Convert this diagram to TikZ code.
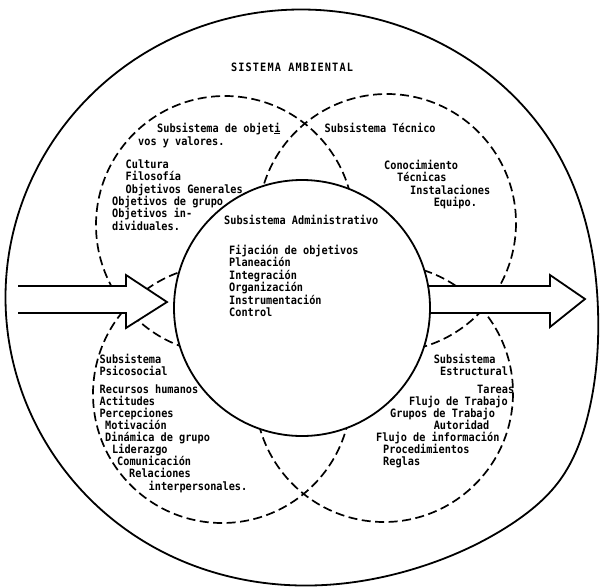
\documentclass[tikz,border=0pt]{standalone}
\usepackage{fontspec}
\usetikzlibrary{hobby}
% tall, narrow line-printer lettering
\newfontfamily\monotxt[FakeStretch=0.89]{DejaVu Sans Mono}
\newfontfamily\titlemono[FakeStretch=0.89, LetterSpace=10]{DejaVu Sans Mono}
\begin{document}
\begin{tikzpicture}[x=1pt,y=-1pt,
  solidline/.style={line width=1.8pt},
  dashline/.style={line width=1.7pt, dash pattern=on 9pt off 4.5pt},
  txt/.style={font=\monotxt\bfseries\fontsize{11.5}{12}\selectfont, anchor=base west, inner sep=0pt},
  titletxt/.style={font=\titlemono\bfseries\fontsize{11.5}{12}\selectfont, anchor=base, inner sep=0pt},
  arrowbody/.style={solidline, line join=miter},
]
\useasboundingbox (0,0) rectangle (600,587);

% environment: outer boundary, a hand-drawn circle, fuller towards the lower right
\draw[solidline, use Hobby shortcut, closed=true]
  (301.5,9.5) .. (449.5,48) .. (557.8,153.5) .. (598,310) .. (588,415) .. (560,480) ..
  (510,525) .. (420,567) .. (301.5,585.5) .. (153.5,547) .. (45.2,441.5) ..
  (5.5,297.5) .. (45.2,153.5) .. (153.5,48);

% the four subsystems around the administrative core
\coordinate (cObj) at (225,225);
\coordinate (cTec) at (387,223);
\coordinate (cPsi) at (222,394);
\coordinate (cEst) at (384,393);
\foreach \c in {cObj,cTec,cPsi,cEst}
  \draw[dashline] (\c) circle [radius=129];

% input arrow (open at its tail)
\fill[white] (18,286) -- (126,286) -- (126,275) -- (167,302) -- (126,328) -- (126,313) -- (18,313) -- cycle;
\draw[arrowbody] (18,286) -- (126,286) -- (126,275) -- (167,302) -- (126,328) -- (126,313) -- (18,313);

% output arrow, leaving the core
\fill[white] (400,286) -- (550,286) -- (550,275) -- (585,299) -- (550,327) -- (550,313) -- (400,313) -- cycle;
\draw[arrowbody] (400,286) -- (550,286) -- (550,275) -- (585,299) -- (550,327) -- (550,313) -- (400,313);

% administrative core
\coordinate (cAdm) at (302,308);
\draw[solidline, fill=white] (cAdm) circle [radius=128];

% title
\node[titletxt] (title) at (292,71.5) {SISTEMA AMBIENTAL};

% texts: name / x / line centre / text
\foreach \n/\x/\y/\t in {
  ul1/157/128/{Subsistema de objet\underline{i}},
  ul2/138/141/{vos y valores.},
  ul3/125.5/164/{Cultura},
  ul4/125.5/176/{Filosofía},
  ul5/125.5/189/{Objetivos Generales},
  ul6/112/201/{Objetivos de grupo},
  ul7/112/213/{Objetivos in-},
  ul8/112/226/{dividuales.},
  ur1/324.5/128/{Subsistema Técnico},
  ur2/384/165/{Conocimiento},
  ur3/397/177/{Técnicas},
  ur4/410/190/{Instalaciones},
  ur5/433.6/202/{Equipo.},
  c1/224/220/{Subsistema Administrativo},
  c2/229/250/{Fijación de objetivos},
  c3/229/262.5/{Planeación},
  c4/229/275/{Integración},
  c5/229/287.5/{Organización},
  c6/229/300/{Instrumentación},
  c7/229/312.5/{Control},
  ll1/99.5/359/{Subsistema},
  ll2/99.5/371/{Psicosocial},
  ll3/99.5/389/{Recursos humanos},
  ll4/99.5/401/{Actitudes},
  ll5/99.5/413/{Percepciones},
  ll6/105/425/{Motivación},
  ll7/105/437/{Dinámica de grupo},
  ll8/112/449/{Liderazgo},
  ll9/117/461/{Comunicación},
  ll10/129/473/{Relaciones},
  ll11/148.5/486/{interpersonales.},
  lr1/433.6/359/{Subsistema},
  lr2/440/371/{Estructural},
  lr3/477/389/{Tareas},
  lr4/409/401/{Flujo de Trabajo},
  lr5/390/413/{Grupos de Trabajo},
  lr6/433.6/425/{Autoridad},
  lr7/376/437/{Flujo de información},
  lr8/383/449/{Procedimientos},
  lr9/383/461/{Reglas}}
  \node[txt] (\n) at (\x,\y+4) {\t};
\end{tikzpicture}
\end{document}
